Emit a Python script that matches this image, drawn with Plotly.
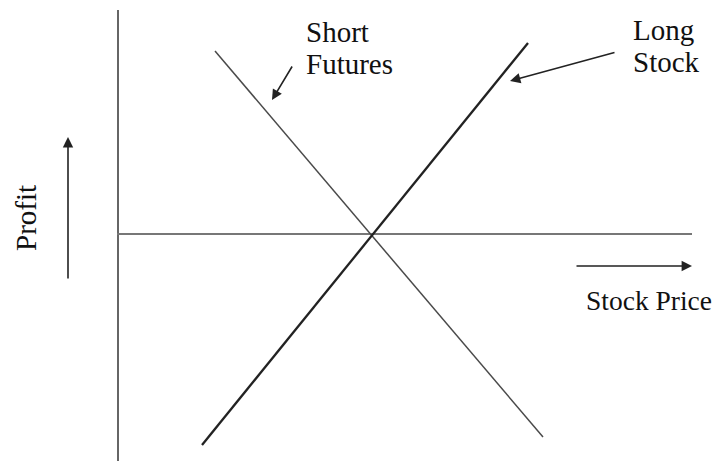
import plotly.graph_objects as go

# Diagram coordinates: x = stock price (relative to break-even), y = profit
long_stock_x = [-170, 156]
long_stock_y = [-211, 191]
short_fut_x = [-157, 171]
short_fut_y = [183, -203]

vaxis_x = [-254, -254]
vaxis_y = [224, -227]
haxis_x = [-255, 320]
haxis_y = [0, 0]

# Arrow (tail -> head) definitions
arrows = [
    dict(tail=(-79, 169), head=(-100, 134)),   # Short Futures pointer
    dict(tail=(244, 182), head=(138, 153)),    # Long Stock pointer
    dict(tail=(-304, -46), head=(-304, 97)),   # Profit direction
    dict(tail=(203, -32), head=(320, -32)),    # Stock price direction
]

labels = [
    dict(text="Short", x=-68, y=202, size=29),
    dict(text="Futures", x=-68, y=170, size=29),
    dict(text="Long", x=259, y=204, size=29),
    dict(text="Stock", x=259, y=172, size=29),
    dict(text="Stock Price", x=212, y=-66, size=27.5),
]

FONT = "Liberation Serif"

fig = go.Figure()
fig.add_trace(go.Scatter(x=vaxis_x, y=vaxis_y, mode="lines",
                         line=dict(color="#666666", width=2), hoverinfo="skip"))
fig.add_trace(go.Scatter(x=haxis_x, y=haxis_y, mode="lines",
                         line=dict(color="#777777", width=2), hoverinfo="skip"))
fig.add_trace(go.Scatter(x=short_fut_x, y=short_fut_y, mode="lines",
                         line=dict(color="#4a4a4a", width=1.5), hoverinfo="skip"))
fig.add_trace(go.Scatter(x=long_stock_x, y=long_stock_y, mode="lines",
                         line=dict(color="#222222", width=2.3), hoverinfo="skip"))

annotations = []
for a in arrows:
    annotations.append(dict(
        x=a["head"][0], y=a["head"][1], ax=a["tail"][0], ay=a["tail"][1],
        xref="x", yref="y", axref="x", ayref="y", text="",
        showarrow=True, arrowhead=2, arrowsize=1.3, arrowwidth=1.6,
        arrowcolor="#222222", standoff=0))
for l in labels:
    annotations.append(dict(
        x=l["x"], y=l["y"], xref="x", yref="y", text=l["text"],
        showarrow=False, xanchor="left", yanchor="middle",
        font=dict(family=FONT, size=l["size"], color="#111111")))
annotations.append(dict(
    x=-346, y=16, xref="x", yref="y", text="Profit", textangle=-90,
    showarrow=False, xanchor="center", yanchor="middle",
    font=dict(family=FONT, size=29, color="#111111")))

# The page body adds an 8px margin, so the figure is 8px smaller and its
# ranges start 8px further in, keeping the same pixel mapping as the reference.
fig.update_layout(
    width=715, height=453, autosize=False,
    margin=dict(l=0, r=0, t=0, b=0),
    paper_bgcolor="white", plot_bgcolor="white",
    showlegend=False,
    xaxis=dict(range=[-364, 351], visible=False, fixedrange=True),
    yaxis=dict(range=[-227, 226], visible=False, fixedrange=True),
    annotations=annotations,
)

fig.write_html("out.html")
